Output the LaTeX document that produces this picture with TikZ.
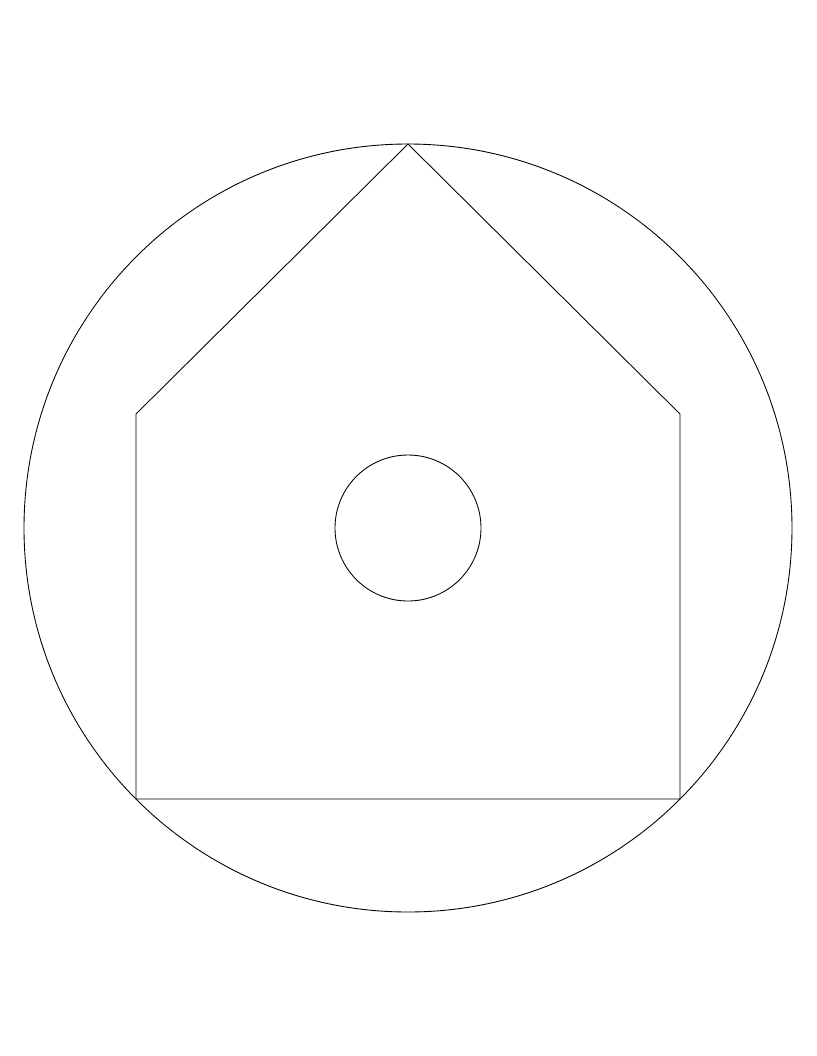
\documentclass[tikz,border=0pt]{standalone}
\usepackage{tikz}

\begin{document}
\begin{tikzpicture}[x=0.02cm, y=-0.02cm, line width=0.5pt]
  % page frame
  \useasboundingbox (0,0) rectangle (816,1056);
  \coordinate (centre) at (408,528);
  % outer ring
  \draw (centre) circle[radius=384];
  % house outline
  \draw (408,144) -- (680,414) -- (680,799) -- (136,799) -- (136,414) -- cycle;
  % window
  \draw (centre) circle[radius=73];
\end{tikzpicture}
\end{document}
